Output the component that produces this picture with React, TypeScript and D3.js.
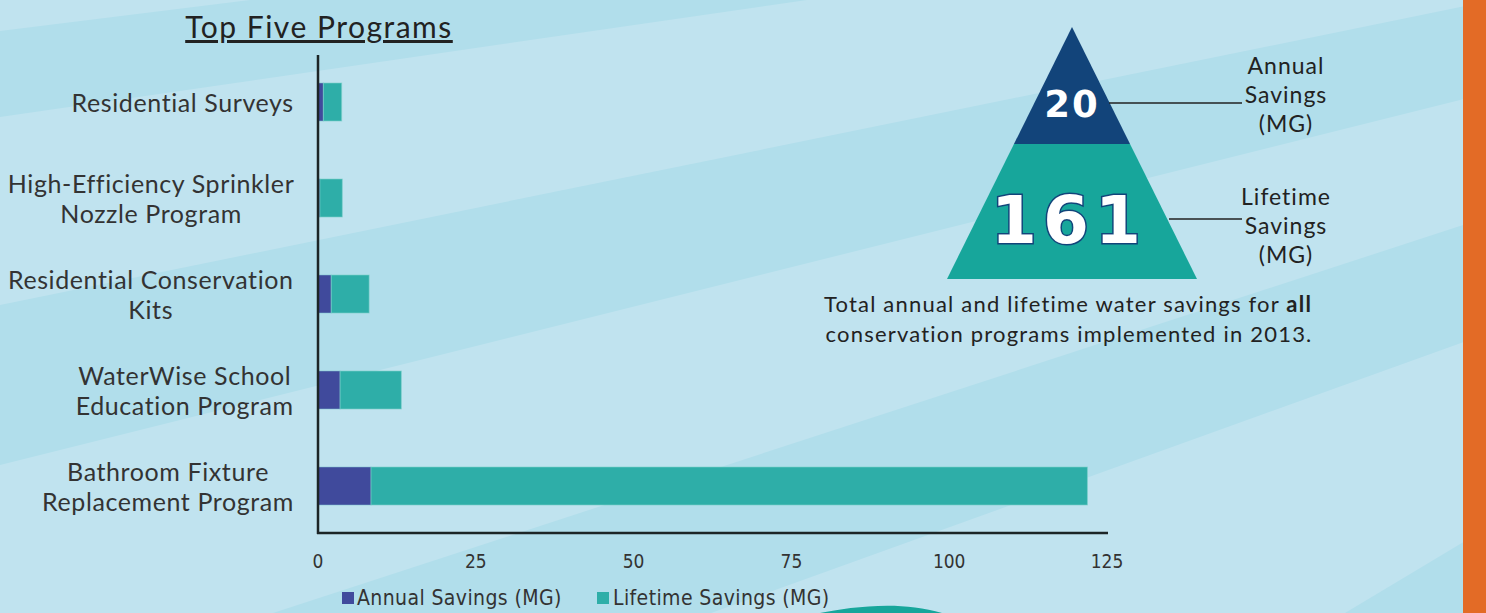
import React, { useMemo } from "react";
import * as d3 from "d3";

// ---- data ----
const categories: string[][] = [
  ["Residential Surveys"],
  ["High-Efficiency Sprinkler", "Nozzle Program"],
  ["Residential Conservation", "Kits"],
  ["WaterWise School", "Education Program"],
  ["Bathroom Fixture", "Replacement Program"],
];
const annualSavings = [0.85, 0.3, 2.1, 3.5, 8.4];
const lifetimeSavings = [2.9, 3.55, 6.0, 9.7, 113.5];
const xTicks = [0, 25, 50, 75, 100, 125];
const seriesNames = ["Annual Savings (MG)", "Lifetime Savings (MG)"];
const totalAnnual = 20;
const totalLifetime = 161;

const W = 1486;
const H = 613;
const C_ANNUAL = "#404a9c";
const C_LIFE = "#2eaea8";
const LABEL_FONT = "Lato, 'Open Sans', sans-serif";
const NARROW_FONT = "'Liberation Sans Narrow', 'DejaVu Sans Condensed', sans-serif";

// background diagonal boundaries: y = a + b*x
const bgLines: [number, number][] = [
  [31, -0.124],
  [117, -0.145],
  [305, -0.204],
  [465, -0.25],
  [702, -0.326],
  [869, -0.36],
  [1420, -0.6],
  [3000, 0],
];

const CAT_FS = 25;
const CAT_LS = 0.6;

function measure(text: string, font: string, ls: number): number {
  const c = document.createElement("canvas");
  const ctx = c.getContext("2d");
  if (!ctx) return text.length * 12;
  ctx.font = font;
  return ctx.measureText(text).width + ls * text.length;
}

export default function App() {
  const x = d3.scaleLinear().domain([0, 125]).range([318, 1107]);
  const y = d3
    .scaleBand<number>()
    .domain(categories.map((_, i) => i))
    .range([54, 534])
    .paddingInner(0.604)
    .paddingOuter(0.302);

  const catWidths = useMemo(
    () =>
      categories.map((lines) =>
        Math.max(...lines.map((l) => measure(l, `${CAT_FS}px Lato`, CAT_LS)))
      ),
    []
  );

  const bands: string[] = [];
  for (let i = 0; i < bgLines.length - 1; i += 2) {
    const [a1, b1] = bgLines[i];
    const [a2, b2] = bgLines[i + 1];
    bands.push(
      `M0,${a1} L${W},${a1 + b1 * W} L${W},${a2 + b2 * W} L0,${a2} Z`
    );
  }

  // pyramid geometry
  const apex = { x: 1072, y: 27 };
  const baseY = 279;
  const halfBase = 125;
  const splitY = 144;
  const tri = (yy: number) => ((yy - apex.y) / (baseY - apex.y)) * halfBase;

  return (
    <svg
      width={W}
      height={H}
      style={{ position: "absolute", left: 0, top: 0, display: "block" }}
    >
      <rect x={0} y={0} width={W} height={H} fill="#c0e3ef" />
      {bands.map((d, i) => (
        <path key={i} d={d} fill="#b1deeb" />
      ))}
      {/* teal wave at bottom */}
      <path d="M820,613 C850,607 900,600 942,613 Z" fill="#17a69b" />
      {/* orange side bar */}
      <rect x={1463} y={0} width={W - 1463} height={H} fill="#e36b26" />

      {/* title */}
      <text
        x={319}
        y={38}
        textAnchor="middle"
        fontFamily={LABEL_FONT}
        fontSize={30}
        letterSpacing={1.5}
        fill="#222"
        textDecoration="underline"
      >
        Top Five Programs
      </text>

      {/* bars */}
      {categories.map((_, i) => {
        const y0 = y(i)!;
        const bw = y.bandwidth();
        const a = annualSavings[i];
        const l = lifetimeSavings[i];
        return (
          <g key={i}>
            <rect
              x={x(0)}
              y={y0}
              width={x(a) - x(0)}
              height={bw}
              fill={C_ANNUAL}
              stroke="#7fc9d2"
              strokeOpacity={0.5}
              strokeWidth={1}
            />
            <rect
              x={x(a)}
              y={y0}
              width={x(a + l) - x(a)}
              height={bw}
              fill={C_LIFE}
              stroke="#7fd0cc"
              strokeOpacity={0.6}
              strokeWidth={1}
            />
          </g>
        );
      })}

      {/* axes */}
      <line x1={x(0)} x2={x(0)} y1={55} y2={534} stroke="#1c2526" strokeWidth={2.5} />
      <line x1={x(0) - 1} x2={x(125) + 1} y1={533} y2={533} stroke="#1c2526" strokeWidth={2.5} />
      {xTicks.map((t) => (
        <text
          key={t}
          x={x(t)}
          y={568}
          textAnchor="middle"
          fontFamily={NARROW_FONT}
          fontSize={19}
          fill="#333"
        >
          {t}
        </text>
      ))}

      {/* category labels */}
      {categories.map((lines, i) => {
        const cy = y(i)! + y.bandwidth() / 2;
        const cx = 294 - catWidths[i] / 2;
        const n = lines.length;
        return (
          <text
            key={i}
            textAnchor="middle"
            fontFamily={LABEL_FONT}
            fontSize={CAT_FS}
            letterSpacing={CAT_LS}
            fill="#333"
          >
            {lines.map((ln, j) => (
              <tspan key={j} x={cx} y={cy + 10 + (j - (n - 1) / 2) * 30.5}>
                {ln}
              </tspan>
            ))}
          </text>
        );
      })}

      {/* legend */}
      <rect x={342} y={592} width={12} height={12} fill={C_ANNUAL} />
      <text x={357} y={605} fontFamily={NARROW_FONT} fontSize={21} letterSpacing={0.4} fill="#333">
        {seriesNames[0]}
      </text>
      <rect x={597} y={592} width={12} height={12} fill={C_LIFE} />
      <text x={613} y={605} fontFamily={NARROW_FONT} fontSize={21} letterSpacing={0.4} fill="#333">
        {seriesNames[1]}
      </text>

      {/* pyramid */}
      <path
        d={`M${apex.x},${apex.y} L${apex.x + tri(splitY)},${splitY} L${apex.x - tri(splitY)},${splitY} Z`}
        fill="#12447a"
      />
      <path
        d={`M${apex.x - tri(splitY)},${splitY} L${apex.x + tri(splitY)},${splitY} L${apex.x + halfBase},${baseY} L${apex.x - halfBase},${baseY} Z`}
        fill="#17a69b"
      />
      <text
        x={1072}
        y={117}
        textAnchor="middle"
        fontFamily="'DejaVu Sans', sans-serif"
        fontWeight="bold"
        fontSize={37}
        letterSpacing={2}
        fill="#fff"
        stroke="#12447a"
        strokeWidth={2}
        paintOrder="stroke"
      >
        {totalAnnual}
      </text>
      <text
        x={1069}
        y={243}
        textAnchor="middle"
        fontFamily="'DejaVu Sans', sans-serif"
        fontWeight="bold"
        fontSize={66}
        letterSpacing={6}
        fill="#fff"
        stroke="#12447a"
        strokeWidth={3}
        paintOrder="stroke"
      >
        {totalLifetime}
      </text>
      <line x1={1109} x2={1242} y1={103} y2={103} stroke="#222" strokeWidth={1.5} />
      <line x1={1169} x2={1242} y1={219} y2={219} stroke="#222" strokeWidth={1.5} />
      <text textAnchor="middle" fontFamily={LABEL_FONT} fontSize={23} letterSpacing={1} fill="#222">
        <tspan x={1286} y={74}>Annual</tspan>
        <tspan x={1286} y={103}>Savings</tspan>
        <tspan x={1286} y={132}>(MG)</tspan>
      </text>
      <text textAnchor="middle" fontFamily={LABEL_FONT} fontSize={23} letterSpacing={1} fill="#222">
        <tspan x={1286} y={205}>Lifetime</tspan>
        <tspan x={1286} y={234}>Savings</tspan>
        <tspan x={1286} y={263}>(MG)</tspan>
      </text>
      <text textAnchor="middle" fontFamily={LABEL_FONT} fontSize={22} letterSpacing={1.2} fill="#222">
        <tspan x={1068} y={312}>
          Total annual and lifetime water savings for <tspan fontWeight="bold">all</tspan>
        </tspan>
        <tspan x={1069} y={342}>conservation programs implemented in 2013.</tspan>
      </text>
    </svg>
  );
}
